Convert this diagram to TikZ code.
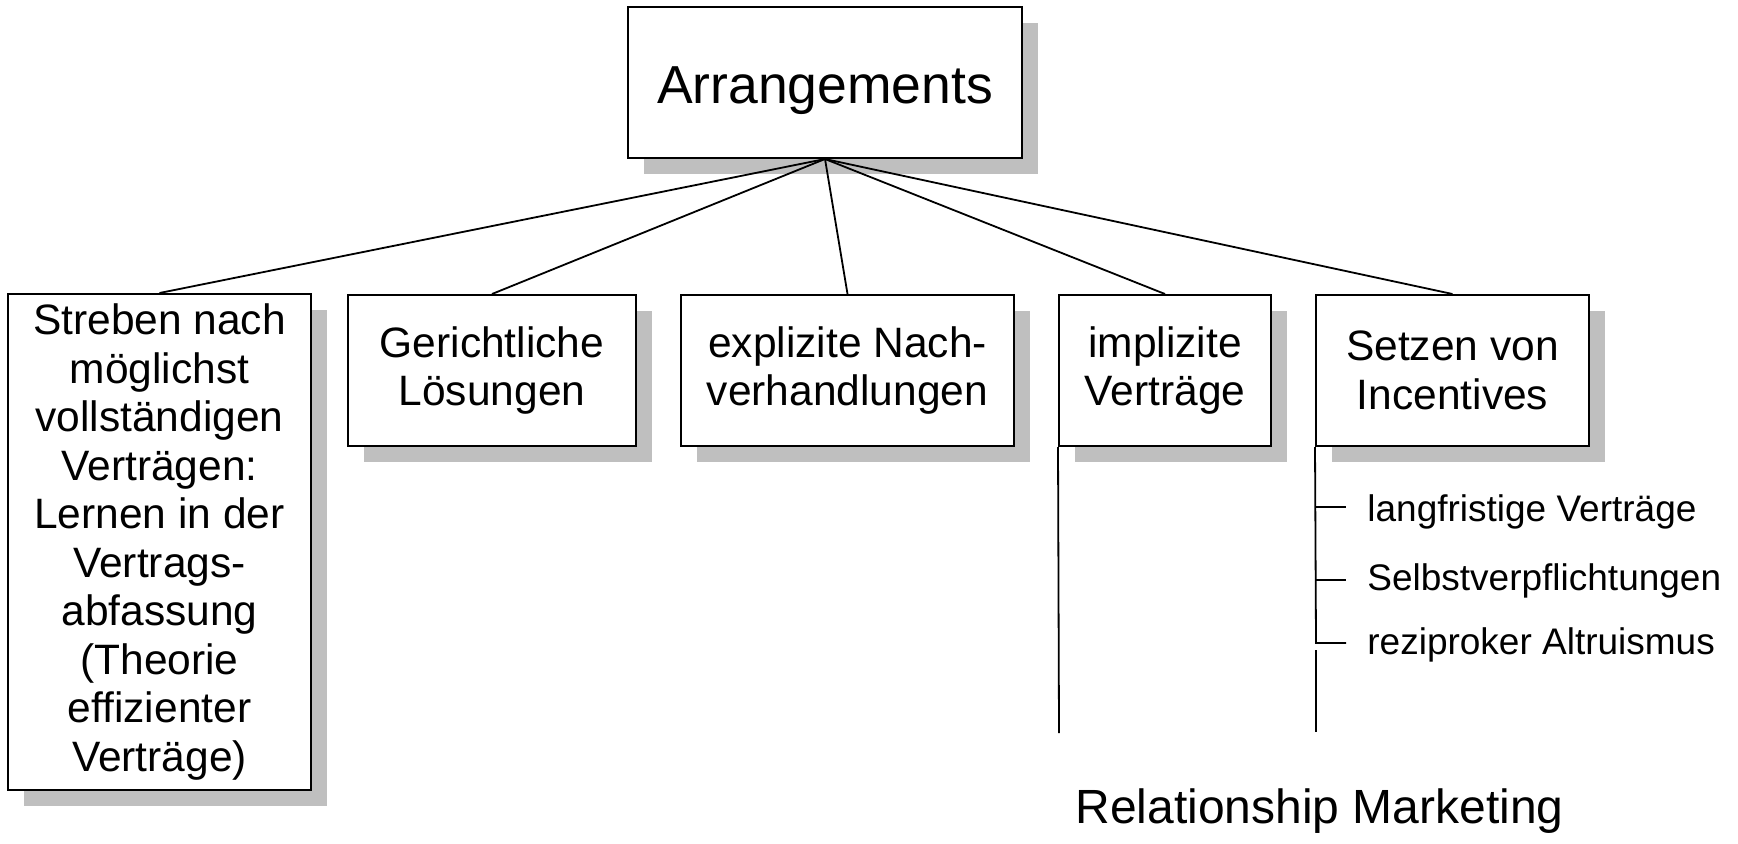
\documentclass[tikz,border=0pt]{standalone}
\usepackage{fontspec}
\setmainfont{Liberation Sans}
\usetikzlibrary{shadows}
\begin{document}
\begin{tikzpicture}[x=0.5pt,y=-0.5pt,
  box/.style={draw=black, line width=1pt, fill=white, inner sep=0pt, align=center,
    font=\fontsize{21.25pt}{24.25pt}\selectfont,
    general shadow={fill=black!25, shadow xshift=8pt, shadow yshift=-8pt}},
  conn/.style={line width=0.9pt},
  item/.style={anchor=base west, inner sep=0pt, font=\fontsize{18.5pt}{22pt}\selectfont}]
\useasboundingbox (0,0) rectangle (1738,843);

\node[box, minimum width=197pt, minimum height=75.5pt, text height=20.5pt, text depth=0pt,
  font=\fontsize{26.75pt}{30pt}\selectfont] (A) at (825,82.5) {Arrangements};

\node[box, minimum width=151.5pt, minimum height=248pt] (S) at (159.5,542)
  {Streben nach\\möglichst\\vollständigen\\Verträgen:\\Lernen in der\\Vertrags-\\abfassung\\(Theorie\\effizienter\\Verträge)};
\node[box, minimum width=144pt, minimum height=75.5pt] (G) at (492,370.5) {Gerichtliche\\Lösungen};
\node[box, minimum width=166.5pt, minimum height=75.5pt] (E) at (847.5,370.5) {explizite Nach-\\verhandlungen};
\node[box, minimum width=106pt, minimum height=75.5pt] (I) at (1165,370.5) {implizite\\Verträge};
\node[box, minimum width=136.5pt, minimum height=75.5pt] (Z) at (1452.5,370.5) {Setzen von\\Incentives};

\draw[conn] (A.south) -- (S.north);
\draw[conn] (A.south) -- (G.north);
\draw[conn] (A.south) -- (E.north);
\draw[conn] (A.south) -- (I.north);
\draw[conn] (A.south) -- (Z.north);

\coordinate (Ib) at (1059,733);
\draw[conn] (I.south west) -- (Ib);

\coordinate (c1) at (1316,507);
\coordinate (e1) at (1346,507);
\coordinate (c2) at (1316,580);
\coordinate (e2) at (1346,580);
\coordinate (c3) at (1316,643);
\coordinate (e3) at (1346,643);
\coordinate (d1) at (1316,650);
\coordinate (d2) at (1316,732);
\draw[conn] (Z.south west) -- (c3) -- (e3);
\draw[conn] (c1) -- (e1);
\draw[conn] (c2) -- (e2);
\draw[conn] (d1) -- (d2);

\node[item] (L1) at (1367,521) {langfristige Verträge};
\node[item] (L2) at (1367,590) {Selbstverpflichtungen};
\node[item] (L3) at (1367,654) {reziproker Altruismus};

\node[anchor=base west, inner sep=0pt, font=\fontsize{24pt}{28pt}\selectfont] (RM) at (1075,823) {Relationship Marketing};
\end{tikzpicture}
\end{document}
